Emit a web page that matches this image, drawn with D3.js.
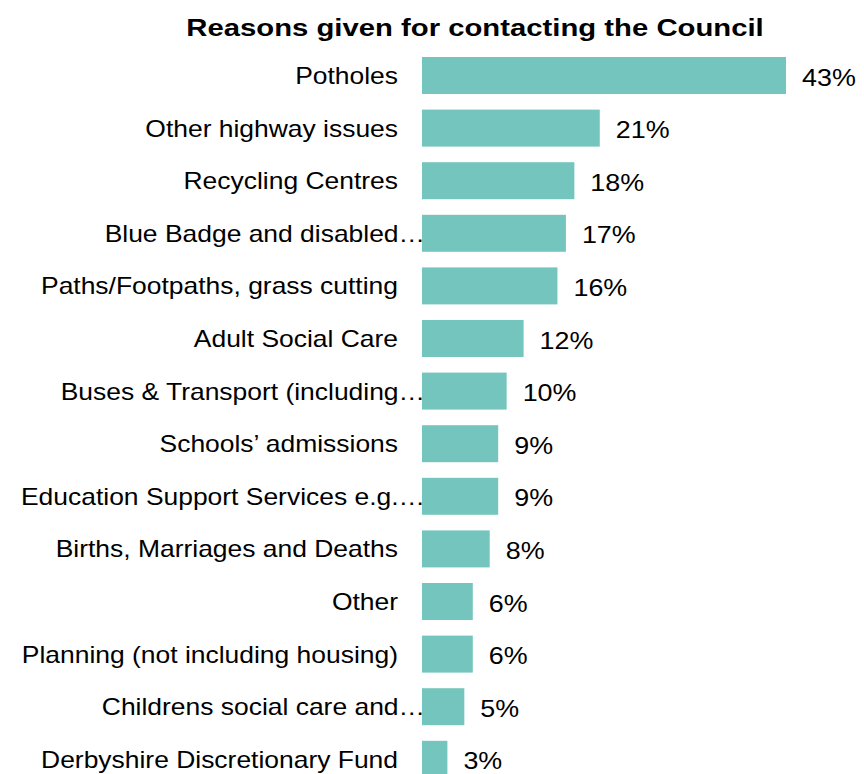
<!DOCTYPE html>
<html>
<head>
<meta charset="utf-8">
<script src="https://cdn.jsdelivr.net/npm/d3@7"></script>
<style>
  html, body { margin: 0; padding: 0; background: #ffffff; }
  svg { display: block; }
  text { font-family: "Liberation Sans", Arial, sans-serif; fill: #000; }
</style>
</head>
<body>
<svg id="chart" width="864" height="774"></svg>
<script>
// Survey categories (top to bottom) and the share of respondents giving each reason
const categories = [
  "Potholes",
  "Other highway issues",
  "Recycling Centres",
  "Blue Badge and disabled…",
  "Paths/Footpaths, grass cutting",
  "Adult Social Care",
  "Buses & Transport (including…",
  "Schools’ admissions",
  "Education Support Services e.g.…",
  "Births, Marriages and Deaths",
  "Other",
  "Planning (not including housing)",
  "Childrens social care and…",
  "Derbyshire Discretionary Fund"
];
const values = [43, 21, 18, 17, 16, 12, 10, 9, 9, 8, 6, 6, 5, 3];
const title = "Reasons given for contacting the Council";

const svg = d3.select("#chart");
const barColor = "#74C5BD";
const stretch = 1.15;   // horizontal widening of the text glyphs

const rows = categories.map((c, i) => ({ category: c, value: values[i] }));

const step = 52.6;
const y = d3.scaleBand()
  .domain(categories)
  .range([49.2, 49.2 + step * categories.length])
  .paddingInner(0.297)
  .paddingOuter(0.1485);

const x = d3.scaleLinear().domain([0, 43]).range([422, 786]);

// Title
svg.append("text")
  .attr("transform", "translate(475,36) scale(1.22,1)")
  .attr("text-anchor", "middle")
  .style("font-size", "24px")
  .style("font-weight", "bold")
  .text(title);

// Bars
svg.append("g").selectAll("rect")
  .data(rows)
  .join("rect")
  .attr("x", x(0))
  .attr("y", d => y(d.category))
  .attr("width", d => x(d.value) - x(0))
  .attr("height", y.bandwidth())
  .attr("fill", barColor);

// Category labels (truncated names run a little closer to the bars)
svg.append("g").selectAll("text")
  .data(rows)
  .join("text")
  .attr("transform", d => {
    const xe = d.category.endsWith("…") ? 425 : 398;
    return `translate(${xe},${y(d.category) + y.bandwidth() / 2 + 8.5}) scale(${stretch},1)`;
  })
  .attr("text-anchor", "end")
  .style("font-size", "23px")
  .text(d => d.category);

// Value labels
svg.append("g").selectAll("text")
  .data(rows)
  .join("text")
  .attr("transform", d => `translate(${x(d.value) + 16},${y(d.category) + y.bandwidth() / 2 + 10}) scale(1.12,1)`)
  .attr("text-anchor", "start")
  .style("font-size", "24px")
  .text(d => d.value + "%");
</script>
</body>
</html>
